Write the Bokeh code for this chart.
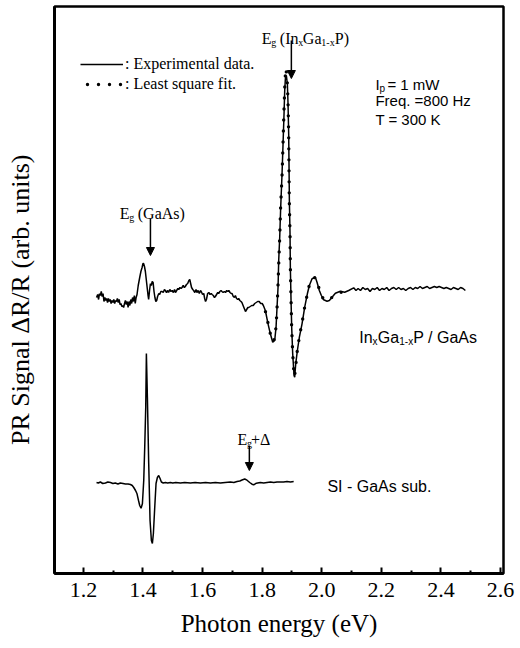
from bokeh.plotting import figure
from bokeh.models import Range1d, FixedTicker, Label, Arrow, NormalHead, Legend, LegendItem
from bokeh.embed import file_html
from bokeh.resources import INLINE

SERIF = "Liberation Serif"
SANS = "Liberation Sans"

# ---------------- data (arbitrary units, curves stacked) ----------------
ingap_x = [1.244, 1.248, 1.251, 1.254, 1.257, 1.260, 1.263, 1.266, 1.269, 1.272, 1.275, 1.278, 1.281,
           1.284, 1.287, 1.290, 1.293, 1.296, 1.299, 1.302, 1.305, 1.308, 1.311, 1.314, 1.317, 1.320,
           1.323, 1.326, 1.329, 1.332, 1.335, 1.338, 1.341, 1.344, 1.347, 1.350, 1.353, 1.356, 1.359,
           1.362, 1.365, 1.368, 1.371, 1.374, 1.377, 1.380, 1.384, 1.389, 1.393, 1.397, 1.400, 1.402,
           1.405, 1.408, 1.411, 1.414, 1.417, 1.419, 1.422, 1.425, 1.428, 1.431, 1.434, 1.437, 1.440,
           1.443, 1.446, 1.449, 1.453, 1.456, 1.460, 1.464, 1.468, 1.472, 1.475, 1.479, 1.483, 1.486,
           1.490, 1.494, 1.498, 1.502, 1.506, 1.509, 1.513, 1.517, 1.520, 1.524, 1.528, 1.531, 1.535,
           1.539, 1.542, 1.546, 1.550, 1.554, 1.557, 1.560, 1.563, 1.567, 1.570, 1.574, 1.578, 1.581,
           1.585, 1.589, 1.593, 1.597, 1.600, 1.604, 1.607, 1.610, 1.613, 1.617, 1.621, 1.625, 1.629,
           1.632, 1.636, 1.640, 1.643, 1.647, 1.651, 1.654, 1.658, 1.662, 1.665, 1.669, 1.673, 1.677,
           1.681, 1.685, 1.688, 1.692, 1.696, 1.699, 1.703, 1.707, 1.710, 1.714, 1.718, 1.721, 1.725,
           1.729, 1.732, 1.736, 1.740, 1.744, 1.748, 1.752, 1.755, 1.760, 1.765, 1.770, 1.775, 1.780,
           1.785, 1.790, 1.795, 1.800, 1.804,
           1.8107, 1.8197, 1.8275, 1.8354, 1.8421, 1.8466, 1.8499, 1.8533, 1.8555, 1.8589, 1.8622,
           1.8667, 1.8701, 1.8734, 1.8757, 1.8779, 1.8812, 1.8846, 1.8868, 1.8890, 1.8902, 1.8913,
           1.8935, 1.8946, 1.8969, 1.8991, 1.9025, 1.9070, 1.9092, 1.9126, 1.9182, 1.9249, 1.9338,
           1.9428, 1.9517, 1.9584, 1.9674, 1.9785, 1.9841, 1.9919, 1.9987, 2.0065, 2.0177, 2.0255,
           2.0345, 2.0457, 2.0624, 2.0770, 2.0904, 2.1072,
           2.115, 2.122, 2.130, 2.138, 2.146, 2.154, 2.162, 2.170, 2.178, 2.186, 2.194, 2.202, 2.210,
           2.218, 2.226, 2.234, 2.242, 2.250, 2.258, 2.266, 2.274, 2.282, 2.290, 2.298, 2.306, 2.314,
           2.322, 2.330, 2.338, 2.346, 2.354, 2.362, 2.370, 2.378, 2.386, 2.394, 2.402, 2.410, 2.418,
           2.426, 2.434, 2.442, 2.450, 2.458, 2.466, 2.474, 2.482]
ingap_y = [276, 279, 274, 280, 278, 282, 277, 280, 272, 276, 273, 275, 271,
           275, 272, 274, 270, 273, 271, 274, 270, 273, 272, 275, 271, 274,
           269, 270, 267, 268, 266, 270, 273, 269, 272, 266, 272, 268, 274,
           270, 276, 272, 278, 270, 276, 279, 288, 296, 302, 306, 310, 310,
           307, 302, 294, 286, 278, 274, 283, 290, 288, 292, 291, 282, 276,
           272, 273, 277, 280, 279, 282, 282, 281, 284, 283, 281, 283, 281,
           284, 282, 283, 281, 284, 281, 283, 285, 284, 286, 285, 286, 288,
           286, 287, 289, 290, 293, 294, 290, 286, 284, 283, 281, 284, 281,
           283, 280, 283, 281, 279, 280, 275, 272, 274, 280, 281, 279, 280,
           279, 278, 276, 277, 279, 281, 280, 282, 283, 282, 281, 282, 281,
           283, 282, 283, 281, 280, 280, 277, 276, 278, 275, 274, 275, 273,
           272, 271, 268, 265, 262, 264, 266, 266, 267, 268, 268, 270, 271,
           272, 272, 270, 270, 268,
           263, 249.7, 239.7, 231.3, 233, 246.3, 266.3, 286.3, 313, 336.3, 366.3,
           399.7, 429.7, 459.7, 483, 494.7, 498, 489.7, 469.7, 439.7, 406.3, 373,
           339.7, 306.3, 273, 246.3, 219.7, 198, 196.3, 209.7, 223, 236.3, 249.7,
           266.3, 279.7, 288, 294.7, 296.3, 291.3, 283, 278, 273.7, 272.3, 273,
           276.3, 280.3, 282.3, 281.3, 283, 285.7,
           283, 285, 283, 286, 284, 285, 282, 285, 284, 286, 283, 285, 284,
           286, 283, 285, 286, 284, 286, 284, 285, 283, 285, 286, 284, 286,
           285, 287, 285, 286, 287, 285, 286, 287, 286, 287, 286, 285, 286,
           285, 284, 286, 285, 284, 286, 285, 283]

fit_x = [1.800, 1.811, 1.820, 1.828, 1.836, 1.842, 1.847, 1.850, 1.853, 1.856, 1.859, 1.862, 1.867,
         1.870, 1.873, 1.876, 1.879, 1.882, 1.885, 1.887, 1.889, 1.890, 1.891, 1.8935, 1.8946, 1.897,
         1.899, 1.9025, 1.907, 1.909, 1.913, 1.918, 1.925, 1.934, 1.943, 1.952, 1.958, 1.967, 1.977,
         1.984, 1.992, 1.999, 2.007, 2.018, 2.030, 2.045, 2.062, 2.080, 2.092]
fit_y = [268, 262, 250, 239, 232, 235, 248, 266, 287, 313, 337, 367, 400,
         430, 461, 488, 505, 500, 488, 468, 440, 406, 373, 340, 306, 273,
         246, 220, 199, 197, 209, 223, 237, 251, 267, 280, 288, 294, 296,
         292, 284, 278, 274, 273, 275, 279, 281, 282, 283]

sub_x = [1.244, 1.250, 1.257, 1.265, 1.274, 1.282, 1.291, 1.299, 1.307, 1.316, 1.324, 1.333, 1.341,
         1.350, 1.358, 1.364, 1.369, 1.375, 1.380, 1.385, 1.389, 1.3935, 1.398, 1.4025, 1.4058,
         1.4092, 1.4114, 1.4148, 1.4192, 1.4237, 1.4282, 1.4315, 1.4349, 1.4394, 1.4438, 1.4483,
         1.4528, 1.4573, 1.4617, 1.468, 1.4752, 1.483, 1.4919, 1.500, 1.510, 1.5255, 1.540, 1.5591,
         1.575, 1.5926, 1.610, 1.6262, 1.643, 1.6597, 1.676, 1.6933, 1.705, 1.7157, 1.725, 1.7324,
         1.7414, 1.7492, 1.7582, 1.766, 1.7716, 1.7805, 1.794, 1.805, 1.8163, 1.828, 1.8387, 1.850,
         1.8611, 1.872, 1.8834, 1.895, 1.9058]
sub_y = [91, 90.5, 91.5, 90, 90.5, 91.5, 91, 90, 90.5, 89.5, 90.5, 90, 89.5,
         89.5, 89, 88, 86, 83, 79.7, 73, 68, 65.3, 69.7, 93, 126,
         166, 220, 176, 110, 53, 33, 30, 40, 66, 90, 96,
         98, 95, 91.5, 90.5, 91, 90.5, 91, 90.5, 91, 90.5, 91, 90.5,
         91, 90.5, 91, 90.5, 91, 90.5, 91, 91.5, 91, 92, 92.5, 93.5,
         94.5, 93.3, 91, 89.3, 88.7, 90.3, 91, 90.5, 91, 91.5, 91, 91.5,
         91.5, 91.5, 92, 91.5, 92]

x_ticks = [1.2, 1.4, 1.6, 1.8, 2.0, 2.2, 2.4, 2.6]
x_tick_labels = ["1.2", "1.4", "1.6", "1.8", "2.0", "2.2", "2.4", "2.6"]
x_minor = [1.1, 1.3, 1.5, 1.7, 1.9, 2.1, 2.3, 2.5]

# ---------------- figure ----------------
p = figure(width=520, height=648, x_range=Range1d(1.103, 2.61), y_range=Range1d(0, 567),
           output_backend="svg", toolbar_location=None,
           min_border_left=54, min_border_right=17, min_border_top=6, min_border_bottom=75)
p.xgrid.visible = False
p.ygrid.visible = False
p.outline_line_color = "black"
p.outline_line_width = 2.5
p.outline_line_alpha = 1
p.background_fill_color = "white"
p.border_fill_color = "white"

xa = p.xaxis[0]
xa.ticker = FixedTicker(ticks=x_ticks, minor_ticks=x_minor)
xa.major_label_overrides = {t: l for t, l in zip(x_ticks, x_tick_labels)}
xa.major_tick_in = 6
xa.major_tick_out = 0
xa.minor_tick_in = 3
xa.minor_tick_out = 0
xa.major_tick_line_width = 2
xa.minor_tick_line_width = 2
xa.axis_line_width = 3
xa.major_label_text_font = SERIF
xa.major_label_text_font_size = "22px"
xa.major_label_text_color = "black"
xa.major_label_standoff = 9
xa.axis_label = "Photon energy (eV)"
xa.axis_label_text_font = SERIF
xa.axis_label_text_font_size = "25px"
xa.axis_label_text_font_style = "normal"
xa.axis_label_text_color = "black"
xa.axis_label_standoff = 10

ya = p.yaxis[0]
ya.ticker = FixedTicker(ticks=[])
ya.major_tick_in = 0
ya.major_tick_out = 0
ya.minor_tick_in = 0
ya.minor_tick_out = 0
ya.major_label_standoff = 0
ya.axis_line_width = 3
ya.axis_label = "PR  Signal  \u0394R/R  (arb. units)"
ya.axis_label_text_font = SERIF
ya.axis_label_text_font_size = "26px"
ya.axis_label_text_font_style = "normal"
ya.axis_label_text_color = "black"
ya.axis_label_standoff = 20

r_data = p.line(ingap_x, ingap_y, line_color="black", line_width=1.5)
p.line(sub_x, sub_y, line_color="black", line_width=1.5)
r_fit = p.line(fit_x, fit_y, line_color="black", line_width=3.4, line_dash="0 11",
               line_cap="round", line_dash_offset=4)

legend = Legend(items=[LegendItem(label=": Experimental data.", renderers=[r_data]),
                       LegendItem(label=": Least square fit.", renderers=[r_fit])],
                location=(26, 479), glyph_width=43, glyph_height=20, label_height=20,
                label_standoff=2, spacing=0, padding=0, margin=0,
                border_line_color=None, background_fill_alpha=0,
                label_text_font=SERIF, label_text_font_size="16px", label_text_color="black")
p.add_layout(legend)


def rich(x, y, parts, font, size, sub_size):
    for text, dx, sub in parts:
        p.add_layout(Label(x=x, y=y, x_offset=dx, y_offset=-4 if sub else 0, text=text,
                           text_font=font, text_font_size=f"{sub_size if sub else size}px",
                           text_baseline="alphabetic", text_align="left", text_color="black"))


def arrow(x, y0, y1):
    p.add_layout(Arrow(end=NormalHead(size=8, fill_color="black", line_color="black", line_width=1),
                       x_start=x, y_start=y0, x_end=x, y_end=y1,
                       line_color="black", line_width=1.5))


rich(1.7990, 535, [("E", 0, False), ("g", 9.5, True), ("(In", 18, False), ("x", 36.5, True),
                   ("Ga", 41, False), ("1-x", 59.5, True), ("P)", 73, False)], SERIF, 16, 10)
arrow(1.898, 533, 495)

rich(1.322, 360, [("E", 0, False), ("g", 9.5, True), ("(GaAs)", 18, False)], SERIF, 16, 10)
arrow(1.425, 355, 318)

rich(1.7168, 134, [("E", 0, False), ("g", 9.5, True), ("+\u0394", 13.5, False)], SERIF, 16, 10)
arrow(1.757, 128, 103)

rich(2.180, 489, [("I", 0, False), ("p", 4.2, True), ("= 1 mW", 12, False)], SANS, 15, 10)
rich(2.180, 473, [("Freq. =800 Hz", 0, False)], SANS, 15, 10)
rich(2.180, 454, [("T = 300 K", 0, False)], SANS, 15, 10)

rich(2.126, 236, [("In", 0, False), ("x", 13.3, True), ("Ga", 18.5, False), ("1-x", 40, True),
                  ("P / GaAs", 54, False)], SANS, 16, 10)
rich(2.019, 87, [("SI - GaAs sub.", 0, False)], SANS, 16, 10)

open("out.html", "w").write(file_html(p, INLINE))
